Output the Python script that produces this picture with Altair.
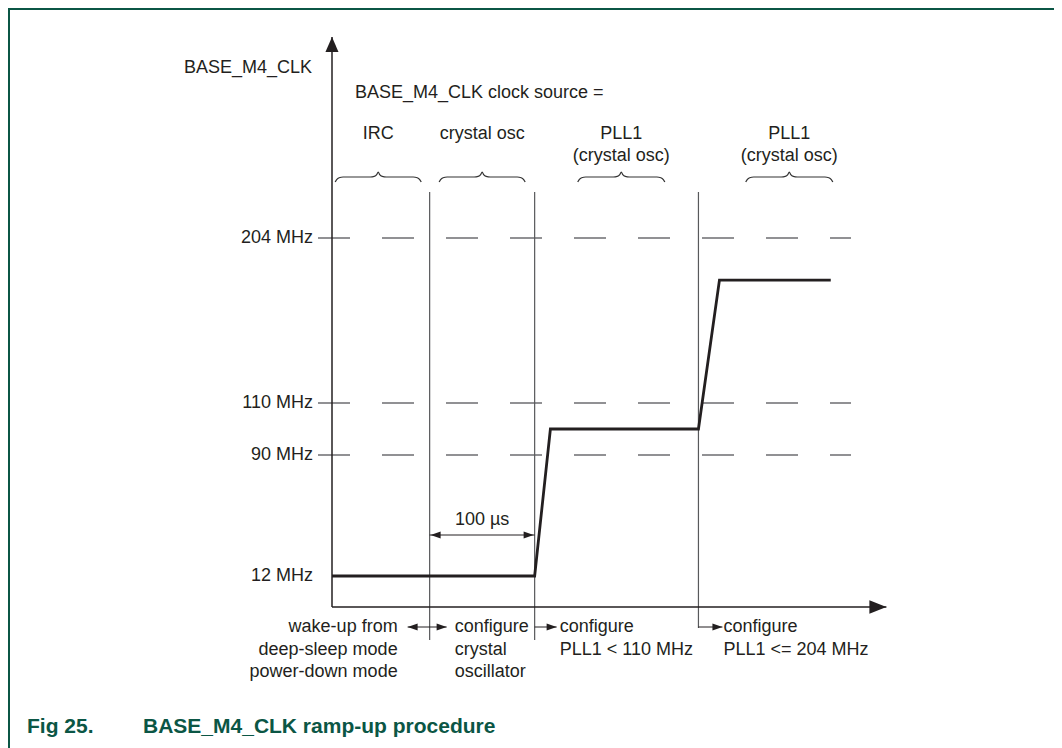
import altair as alt
import pandas as pd

# ---------------- data ----------------
clock_t = [0, 193, 208, 349, 369, 475]          # time, µs (0 = axis origin)
clock_mhz = [12, 12, 100, 100, 180, 180]        # BASE_M4_CLK frequency, MHz

level_mhz = [204, 110, 90, 12]
level_labels = ["204 MHz", "110 MHz", "90 MHz", "12 MHz"]
dashed_mhz = [204, 110, 90]

phase_t = [93, 193, 349]                        # phase boundaries, µs
delay_label = "100 µs"

src_start = [3, 102, 234, 394]                  # braces, µs
src_end = [85, 184, 317, 477]
src_line1 = ["IRC", "crystal osc", "PLL1", "PLL1"]
src_line2 = ["", "", "(crystal osc)", "(crystal osc)"]

step_text = [
    ["wake-up from", "deep-sleep mode", "power-down mode"],
    ["configure", "crystal", "oscillator"],
    ["configure", "PLL1 < 110 MHz"],
    ["configure", "PLL1 <= 204 MHz"],
]

y_title = "BASE_M4_CLK"
src_title = "BASE_M4_CLK clock source ="
fig_no = "Fig 25."
fig_title = "BASE_M4_CLK ramp-up procedure"

# ---------------- layout ----------------
W, H = 1046, 740
FONT = "Liberation Sans"
FS = 18
INK = "#231f20"
GRAY = "#6d6e71"
GREEN = "#0b5645"
US_PX = 1.05            # pixels per µs
T_AXIS_END = 528
T_TOP = 250


def v(p):
    """page pixel -> view pixel"""
    return p - 8


def t_of(page_x):
    return (page_x - 332) / US_PX


X = alt.Scale(domain=[0, 560], range=[v(332), v(332) + 560 * US_PX], nice=False, zero=False)
Y = alt.Scale(domain=[0, 12, 90, 110, 204, T_TOP],
              range=[v(607), v(576), v(455), v(403), v(238), v(37)], nice=False, zero=False)
P = alt.Scale(domain=[0, H], range=[0, H], nice=False, zero=False)


def xe(f):
    return alt.X(f, type="quantitative", scale=X, axis=None)


def ym(f):
    return alt.Y(f, type="quantitative", scale=Y, axis=None)


def yp(f):
    return alt.Y(f, type="quantitative", scale=P, axis=None)


one = pd.DataFrame({"a": [0]})
layers = []

# frame
layers.append(alt.Chart(one).mark_rule(color=GREEN, strokeWidth=2).encode(
    x=alt.value(0), x2=alt.value(W), y=alt.value(1)))
layers.append(alt.Chart(one).mark_rule(color=GREEN, strokeWidth=2).encode(
    x=alt.value(1), y=alt.value(0), y2=alt.value(H)))

# dashed levels
dash_df = pd.DataFrame({"mhz": dashed_mhz, "t0": t_of(318), "t1": t_of(851)})
layers.append(alt.Chart(dash_df).mark_rule(color=GRAY, strokeWidth=1.3, strokeDash=[32, 32]).encode(
    x=xe("t0"), x2="t1:Q", y=ym("mhz")))

# phase boundaries
phase_df = pd.DataFrame({"t": phase_t, "top": [v(192)] * 3, "bot": [v(640), v(640), v(628)]})
layers.append(alt.Chart(phase_df).mark_rule(color="#58595b", strokeWidth=1.2).encode(
    x=xe("t"), y=yp("top"), y2="bot:Q"))

# axes
axis_df = pd.DataFrame({"t": [0], "t_end": [T_AXIS_END], "lo": [0], "hi": [T_TOP]})
layers.append(alt.Chart(axis_df).mark_rule(color=INK, strokeWidth=1.5).encode(
    x=xe("t"), y=ym("lo"), y2="hi:Q"))
layers.append(alt.Chart(axis_df).mark_rule(color=INK, strokeWidth=1.5).encode(
    x=xe("t"), x2="t_end:Q", y=ym("lo")))
layers.append(alt.Chart(axis_df).mark_point(
    shape="M0,-1L0.87,1L-0.87,1Z", size=225, filled=True, color=INK, opacity=1,
    strokeWidth=0, yOffset=7.5).encode(x=xe("t"), y=ym("hi")))
layers.append(alt.Chart(axis_df).mark_point(
    shape="M1,0L-1,0.8L-1,-0.8Z", size=289, filled=True, color=INK, opacity=1,
    strokeWidth=0, xOffset=-8.5).encode(x=xe("t_end"), y=ym("lo")))

# clock curve
clock_df = pd.DataFrame({"t": clock_t, "mhz": clock_mhz, "i": list(range(len(clock_t)))})
layers.append(alt.Chart(clock_df).mark_line(color=INK, strokeWidth=2.8).encode(
    x=xe("t"), y=ym("mhz"), order="i:Q"))

# braces
half = [(0, 182), (1.5, 179.6), (4, 177.7), (8, 177)]
tip = [(8, 177), (4, 176.4), (1.5, 174.6), (0, 172)]
rows = []
for b, (s, e) in enumerate(zip(src_start, src_end)):
    c = (s + e) / 2
    pts = [(s + dx / US_PX, py) for dx, py in half]
    pts += [(c - dx / US_PX, py) for dx, py in tip]
    pts += [(c + dx / US_PX, py) for dx, py in reversed(tip)]
    pts += [(e - dx / US_PX, py) for dx, py in reversed(half)]
    for i, (tt, py) in enumerate(pts):
        rows.append({"b": b, "i": i, "t": tt, "py": v(py)})
brace_df = pd.DataFrame(rows)
layers.append(alt.Chart(brace_df).mark_line(color="#333333", strokeWidth=1.2, interpolate="monotone").encode(
    x=xe("t"), y=yp("py"), detail="b:N", order="i:Q"))

txt = dict(font=FONT, fontSize=FS, color=INK, baseline="middle")

# level labels
lvl_df = pd.DataFrame({"mhz": level_mhz, "label": level_labels})
layers.append(alt.Chart(lvl_df).mark_text(align="right", **txt).encode(
    x=alt.value(v(313)), y=ym("mhz"), text="label:N"))

# clock source labels
src_df = pd.DataFrame({"tc": [(s + e) / 2 for s, e in zip(src_start, src_end)],
                       "l1": src_line1, "l2": src_line2})
layers.append(alt.Chart(src_df).mark_text(align="center", **txt).encode(
    x=xe("tc"), y=alt.value(v(134)), text="l1:N"))
layers.append(alt.Chart(src_df).mark_text(align="center", **txt).encode(
    x=xe("tc"), y=alt.value(v(156)), text="l2:N"))

# headings
layers.append(alt.Chart(one).mark_text(align="left", text=y_title, **txt).encode(
    x=alt.value(v(184)), y=alt.value(v(68))))
layers.append(alt.Chart(one).mark_text(align="left", text=src_title, **txt).encode(
    x=alt.value(v(355)), y=alt.value(v(93))))

# 100 µs interval
dl_df = pd.DataFrame({"t0": [phase_t[0]], "t1": [phase_t[1]], "tm": [(phase_t[0] + phase_t[1]) / 2],
                      "label": [delay_label]})
layers.append(alt.Chart(dl_df).mark_text(align="center", **txt).encode(
    x=xe("tm"), y=alt.value(v(520)), text="label:N"))
layers.append(alt.Chart(dl_df).mark_rule(color=INK, strokeWidth=1).encode(
    x=xe("t0"), x2="t1:Q", y=alt.value(v(535))))
ARW_R = "M1,0L-1,0.7L-1,-0.7Z"
ARW_L = "M-1,0L1,0.7L1,-0.7Z"
layers.append(alt.Chart(dl_df).mark_point(shape=ARW_L, size=100, filled=True, color=INK, opacity=1,
                                          strokeWidth=0, xOffset=6).encode(x=xe("t0"), y=alt.value(v(535))))
layers.append(alt.Chart(dl_df).mark_point(shape=ARW_R, size=100, filled=True, color=INK, opacity=1,
                                          strokeWidth=0, xOffset=-6).encode(x=xe("t1"), y=alt.value(v(535))))

# step descriptions below the time axis
rows = []
for g, lines in enumerate(step_text):
    anchor = phase_t[max(g - 1, 0)] if g > 0 else phase_t[0]
    for i, s in enumerate(lines):
        rows.append({"g": g, "t": anchor, "py": v(627 + 22.5 * i), "text": s})
step_df = pd.DataFrame(rows)
layers.append(alt.Chart(step_df[step_df.g == 0]).mark_text(align="right", dx=-32, **txt).encode(
    x=xe("t"), y=yp("py"), text="text:N"))
layers.append(alt.Chart(step_df[step_df.g > 0]).mark_text(align="left", dx=25, **txt).encode(
    x=xe("t"), y=yp("py"), text="text:N"))

# step arrows
arr_df = pd.DataFrame({
    "t0": [phase_t[0] - 22 / US_PX, phase_t[1], phase_t[2]],
    "t1": [phase_t[0] + 17 / US_PX, phase_t[1] + 22 / US_PX, phase_t[2] + 24 / US_PX],
    "py": [v(627)] * 3,
    "both": [True, False, False],
})
layers.append(alt.Chart(arr_df).mark_rule(color=INK, strokeWidth=1).encode(
    x=xe("t0"), x2="t1:Q", y=yp("py")))
layers.append(alt.Chart(arr_df).mark_point(shape=ARW_R, size=100, filled=True, color=INK, opacity=1,
                                           strokeWidth=0, xOffset=-5).encode(x=xe("t1"), y=yp("py")))
layers.append(alt.Chart(arr_df[arr_df.both]).mark_point(shape=ARW_L, size=100, filled=True, color=INK,
                                                        opacity=1, strokeWidth=0, xOffset=5).encode(
    x=xe("t0"), y=yp("py")))

# caption
cap = dict(font=FONT, fontSize=21, fontWeight="bold", color=GREEN, baseline="middle", align="left")
layers.append(alt.Chart(one).mark_text(text=fig_no, **cap).encode(x=alt.value(v(27)), y=alt.value(v(727))))
layers.append(alt.Chart(one).mark_text(text=fig_title, **cap).encode(x=alt.value(v(143)), y=alt.value(v(727))))

chart = alt.layer(*layers).resolve_scale(y="independent").properties(
    width=W, height=H, padding=0, autosize=alt.AutoSizeParams(type="none"),
    background="white",
).configure_view(stroke=None)

chart.save("out.html", embed_options={"renderer": "svg", "actions": False})
